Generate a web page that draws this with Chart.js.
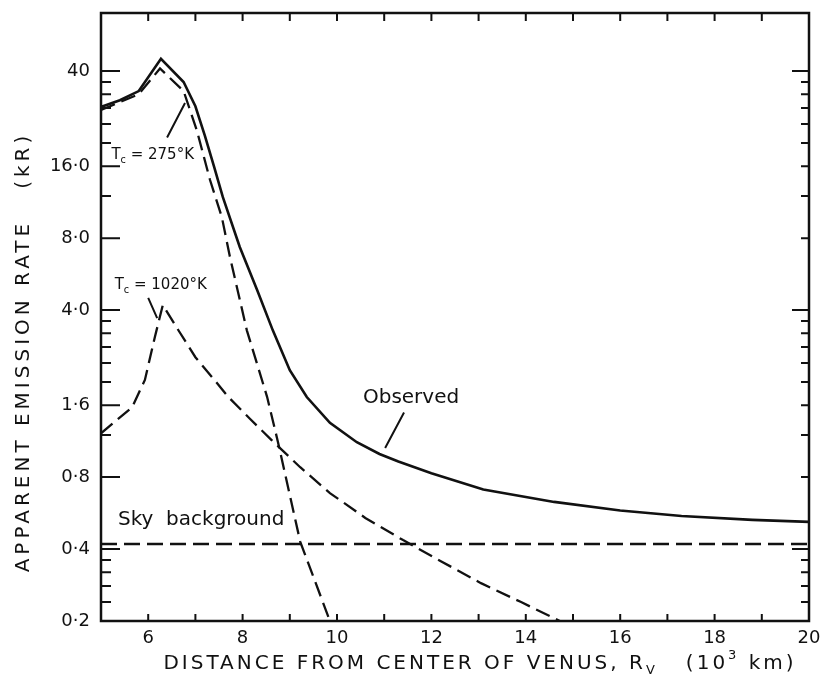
<!DOCTYPE html>
<html><head><meta charset="utf-8">
<script src="https://cdn.jsdelivr.net/npm/chart.js@4/dist/chart.umd.min.js"></script>
<style>html,body{margin:0;padding:0;background:#fff}canvas{display:block}</style>
</head><body>
<canvas id="c" width="828" height="687"></canvas>
<script>
// ---- data ----
const observedX = [5, 5.4, 5.8, 6.27, 6.75, 7.0, 7.2, 7.4, 7.58, 7.94, 8.31, 8.64, 9.0, 9.36, 9.85, 10.42, 10.9, 11.3, 12.0, 13.1, 14.6, 16.0, 17.3, 18.8, 20];
const observedY = [28.3, 30.2, 33, 45, 36, 28.5, 21.5, 15.8, 11.9, 7.35, 4.84, 3.29, 2.24, 1.73, 1.35, 1.12, 1.0, 0.93, 0.83, 0.71, 0.63, 0.58, 0.55, 0.53, 0.52];
const t275X = [5, 5.8, 6.25, 6.75, 7.03, 7.31, 7.56, 7.73, 8.09, 8.52, 8.75, 9.22, 9.85];
const t275Y = [27.5, 32, 41, 33, 22.6, 14, 9.8, 6.7, 3.29, 1.73, 1.12, 0.43, 0.2];
const t1020X = [5, 5.66, 5.93, 6.14, 6.31, 6.65, 7.0, 7.35, 7.7, 8.16, 8.62, 9.22, 9.85, 10.6, 11.4, 12.2, 13.05, 13.9, 14.72];
const t1020Y = [1.22, 1.57, 2.04, 3.08, 4.2, 3.27, 2.54, 2.1, 1.73, 1.4, 1.14, 0.88, 0.686, 0.54, 0.436, 0.356, 0.288, 0.24, 0.2];
const skyX = [5, 20];
const skyY = [0.42, 0.42];

const xTickValues = [5,6,7,8,9,10,11,12,13,14,15,16,17,18,19,20];
const xTickLabels = ['', '6', '', '8', '', '10', '', '12', '', '14', '', '16', '', '18', '', '20'];
const yMajorValues = [0.2, 0.4, 0.8, 1.6, 4, 8, 16, 40];
const yMajorLabels = ['0·2', '0·4', '0·8', '1·6', '4·0', '8·0', '16·0', '40'];
const yMinorValues = [0.24, 0.28, 0.32, 0.36, 1.2, 2.0, 2.4, 2.8, 3.2, 3.6, 12, 20, 24, 28, 32, 36];
const yDecadeValues = [0.4, 4, 40];

const xTitle = [{t:'DISTANCE FROM CENTER OF VENUS, R'}, {t:'V', sub:true}, {t:'   (10'}, {t:'3', sup:true}, {t:' km)'}];
const yTitle = 'APPARENT EMISSION RATE   (kR)';

// annotation anchors in data coordinates
const notes = [
  {parts:[{t:'T'},{t:'c',sub:true},{t:' = 275°K'}], x:5.22, y:17.8, size:15},
  {parts:[{t:'T'},{t:'c',sub:true},{t:' = 1020°K'}], x:5.29, y:5.07, size:15},
  {parts:[{t:'Observed'}], x:10.55, y:1.71, size:20},
  {parts:[{t:'Sky  background'}], x:5.36, y:0.53, size:20}
];
const leaders = [
  {x1:6.40, y1:21.1, x2:6.78, y2:29.4},
  {x1:6.00, y1:4.5, x2:6.19, y2:3.7},
  {x1:11.42, y1:1.49, x2:11.02, y2:1.06}
];

const pts = (xs, ys) => xs.map((x, i) => ({x, y: ys[i]}));
const INK = '#111';
const FONT = '"DejaVu Sans", sans-serif';

function drawParts(ctx, parts, x, y, size) {
  let cx = x;
  for (const p of parts) {
    const s = (p.sub || p.sup) ? size * 0.65 : size;
    ctx.font = s + 'px ' + FONT;
    const dy = p.sub ? size * 0.35 : (p.sup ? -size * 0.4 : 0);
    ctx.fillText(p.t, cx, y + dy);
    cx += ctx.measureText(p.t).width;
  }
  return cx - x;
}
function partsWidth(ctx, parts, size) {
  let w = 0;
  for (const p of parts) {
    const s = (p.sub || p.sup) ? size * 0.65 : size;
    ctx.font = s + 'px ' + FONT;
    w += ctx.measureText(p.t).width;
  }
  return w;
}

const decor = {
  id: 'decor',
  afterDraw(chart) {
    const {ctx, chartArea: a, scales: {x, y}} = chart;
    ctx.save();
    ctx.strokeStyle = INK; ctx.fillStyle = INK; ctx.lineCap = 'butt';
    // frame
    ctx.lineWidth = 2.5;
    ctx.strokeRect(a.left, a.top, a.right - a.left, a.bottom - a.top);
    // x tick marks (inward, bottom and top)
    ctx.lineWidth = 2;
    ctx.beginPath();
    for (const v of xTickValues) {
      const px = x.getPixelForValue(v);
      ctx.moveTo(px, a.bottom); ctx.lineTo(px, a.bottom - 7);
      ctx.moveTo(px, a.top); ctx.lineTo(px, a.top + 8);
    }
    // y tick marks (inward, left and right)
    for (const v of yMajorValues.concat(yMinorValues)) {
      const py = y.getPixelForValue(v);
      const left = yMajorValues.includes(v) ? 19 : 10;
      const right = yDecadeValues.includes(v) ? 17 : 8;
      ctx.moveTo(a.left, py); ctx.lineTo(a.left + left, py);
      ctx.moveTo(a.right, py); ctx.lineTo(a.right - right, py);
    }
    ctx.stroke();
    // leaders
    ctx.lineWidth = 2;
    ctx.beginPath();
    for (const l of leaders) {
      ctx.moveTo(x.getPixelForValue(l.x1), y.getPixelForValue(l.y1));
      ctx.lineTo(x.getPixelForValue(l.x2), y.getPixelForValue(l.y2));
    }
    ctx.stroke();
    // notes
    ctx.textBaseline = 'middle'; ctx.textAlign = 'left';
    for (const n of notes) {
      drawParts(ctx, n.parts, x.getPixelForValue(n.x), y.getPixelForValue(n.y), n.size);
    }
    // x title
    ctx.letterSpacing = '3px';
    const xs = 20;
    const w = partsWidth(ctx, xTitle, xs);
    drawParts(ctx, xTitle, 480 - w / 2, 664, xs);
    // y title
    ctx.translate(24, 352);
    ctx.rotate(-Math.PI / 2);
    ctx.textAlign = 'center';
    ctx.font = '20px ' + FONT;
    ctx.letterSpacing = '4px';
    ctx.fillText(yTitle, 0, 0);
    ctx.restore();
  }
};

new Chart(document.getElementById('c'), {
  type: 'scatter',
  data: {
    datasets: [
      {label:'Observed', data: pts(observedX, observedY), showLine:true, borderColor:INK, borderWidth:2.6, pointRadius:0, tension:0},
      {label:'Tc = 275°K', data: pts(t275X, t275Y), showLine:true, borderColor:INK, borderWidth:2.3, borderDash:[15,7], pointRadius:0, tension:0},
      {label:'Tc = 1020°K', data: pts(t1020X, t1020Y), showLine:true, borderColor:INK, borderWidth:2.3, borderDash:[15,7], pointRadius:0, tension:0},
      {label:'Sky background', data: pts(skyX, skyY), showLine:true, borderColor:INK, borderWidth:2.3, borderDash:[16,7], pointRadius:0, tension:0}
    ]
  },
  options: {
    responsive:false, animation:false,
    layout:{padding:{left:0, top:13, right:19, bottom:0}},
    plugins:{legend:{display:false}, tooltip:{enabled:false}},
    scales:{
      x:{
        type:'linear', min:5, max:20,
        afterFit(s){ s.height = 66; s.paddingLeft = 0; s.paddingRight = 0; },
        afterBuildTicks(s){ s.ticks = xTickValues.map(v => ({value:v})); },
        grid:{display:false, drawTicks:false},
        border:{display:false},
        ticks:{autoSkip:false, maxRotation:0, padding:7, color:INK, font:{family:FONT, size:18},
          callback:(v) => { const i = xTickValues.indexOf(v); return i >= 0 ? xTickLabels[i] : ''; }}
      },
      y:{
        type:'logarithmic', min:0.2, max:70,
        afterFit(s){ s.width = 101; s.paddingTop = 0; s.paddingBottom = 0; },
        afterBuildTicks(s){ s.ticks = yMajorValues.map(v => ({value:v})); },
        grid:{display:false, drawTicks:false},
        border:{display:false},
        ticks:{autoSkip:false, padding:11, color:INK, font:{family:FONT, size:18},
          callback:(v) => { const i = yMajorValues.indexOf(v); return i >= 0 ? yMajorLabels[i] : ''; }}
      }
    }
  },
  plugins:[decor]
});
</script>
</body></html>
